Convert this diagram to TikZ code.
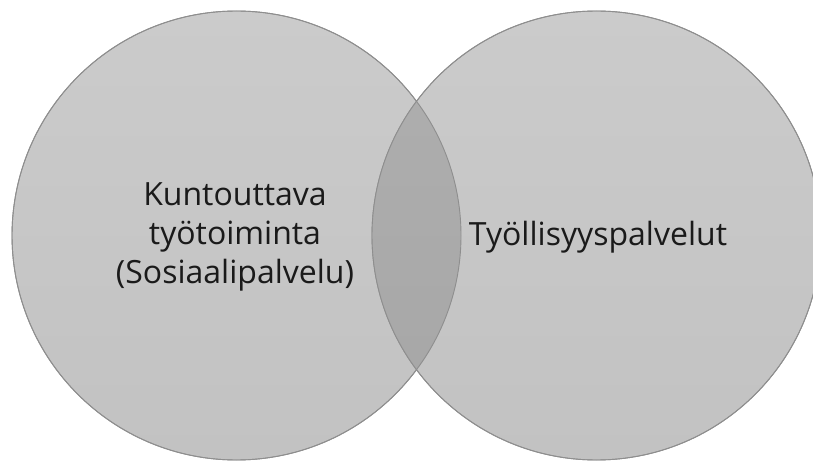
\documentclass[tikz,border=0pt]{standalone}
\usepackage{fontspec}
\setmainfont{Open Sans}
\definecolor{circtop}{HTML}{CBCBCB}
\definecolor{circbot}{HTML}{C2C2C2}
\definecolor{lenstop}{HTML}{AFAFAF}
\definecolor{lensbot}{HTML}{A6A6A6}
\definecolor{edgegray}{HTML}{8E8E8E}
\definecolor{txt}{HTML}{1A1A1A}
\tikzset{
  venn/.style={circle, minimum size=449pt, inner sep=0pt, draw=edgegray, line width=0.9pt,
    top color=circtop, bottom color=circbot},
  label/.style={font=\fontsize{32}{39}\selectfont, text=txt, align=center, inner sep=0pt}
}
\begin{document}
\begin{tikzpicture}[x=1pt,y=-1pt]
\clip (0,0) rectangle (813,462);
\useasboundingbox (0,0) rectangle (813,462);
\node[venn] (left) at (236.5,235.5) {};
\node[venn] (right) at (596.5,235.5) {};
\begin{scope}
  \clip (left.center) circle (224.5);
  \shade[top color=lenstop, bottom color=lensbot] (right.center) circle (224.5);
\end{scope}
\draw[edgegray, line width=0.9pt] (left.center) circle (224.5);
\draw[edgegray, line width=0.9pt] (right.center) circle (224.5);
\node[label] (lefttext) at (235,237) {Kuntouttava\\työtoiminta\\(Sosiaalipalvelu)};
\node[label, anchor=base] (righttext) at (598,246) {Työllisyyspalvelut};
\end{tikzpicture}
\end{document}
